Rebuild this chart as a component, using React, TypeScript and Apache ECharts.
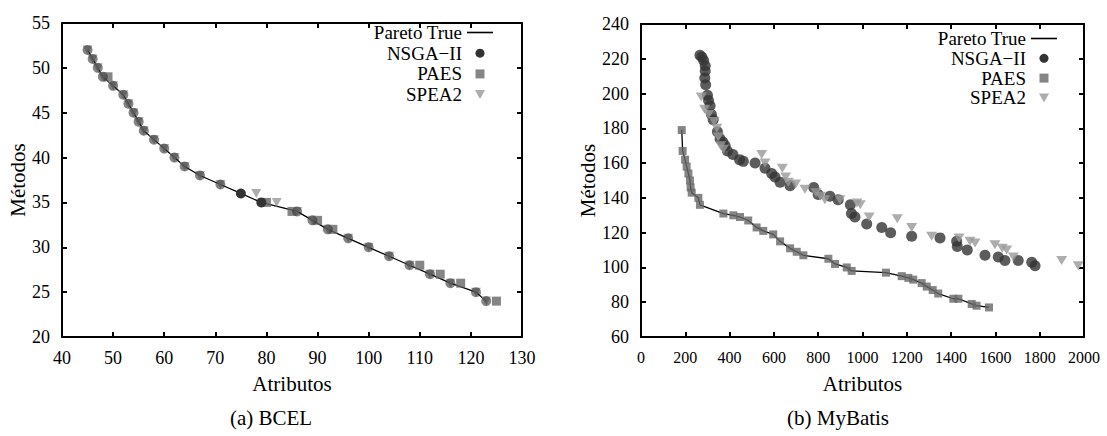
import React, { useEffect, useRef } from "react";
import * as echarts from "echarts";

// ---------- BCEL (left) ----------
const bcelParetoTrue: [number, number][] = [
  [45, 52], [46, 51], [47, 50], [48, 49], [50, 48], [52, 47], [53, 46], [54, 45], [55, 44], [56, 43],
  [58, 42], [60, 41], [62, 40], [64, 39], [67, 38], [71, 37], [75, 36], [79, 35], [86, 34], [89, 33],
  [92, 32], [96, 31], [100, 30], [104, 29], [108, 28], [112, 27], [116, 26], [121, 25], [123, 24],
];
const bcelNSGA: [number, number][] = [
  [45, 52], [46, 51], [47, 50], [48, 49], [50, 48], [52, 47], [53, 46], [54, 45], [55, 44], [56, 43],
  [58, 42], [60, 41], [62, 40], [64, 39], [67, 38], [71, 37], [75, 36], [79, 35], [86, 34], [89, 33],
  [92, 32], [96, 31], [100, 30], [104, 29], [108, 28], [112, 27], [116, 26], [121, 25], [123, 24],
];
const bcelPAES: [number, number][] = [
  [49, 49], [80, 35], [85, 34], [90, 33], [93, 32], [110, 28], [114, 27], [118, 26], [125, 24],
];
const bcelSPEA2: [number, number][] = [
  [45, 52], [46, 51], [47, 50], [48, 49], [50, 48], [52, 47], [53, 46], [54, 45], [55, 44], [56, 43],
  [58, 42], [60, 41], [62, 40], [64, 39], [67, 38], [71, 37], [78, 36], [82, 35], [86, 34], [89, 33],
  [92, 32], [96, 31], [100, 30], [104, 29], [108, 28], [112, 27], [116, 26], [121, 25], [123, 24],
];

// ---------- MyBatis (right) ----------
const myBatisPAES: [number, number][] = [
  [184, 179], [188, 167], [199, 162], [206, 158], [214, 154], [221, 150], [224, 146], [229, 143],
  [259, 140], [266, 136], [372, 131], [417, 130], [447, 129], [484, 127], [522, 123], [552, 121],
  [597, 119], [628, 115], [673, 111], [703, 109], [733, 107], [846, 105], [876, 102], [929, 100],
  [951, 98], [1106, 97], [1177, 95], [1207, 94], [1229, 93], [1267, 91], [1290, 89], [1317, 87],
  [1342, 85], [1410, 82], [1433, 82], [1493, 79], [1515, 78], [1571, 77],
];
const myBatisParetoTrue: [number, number][] = [
  [184, 179], [188, 167], [199, 162], [206, 158], [214, 154], [221, 150], [224, 146], [229, 143],
  [259, 140], [266, 136], [372, 131], [417, 130], [447, 129], [484, 127], [522, 123], [552, 121],
  [597, 119], [628, 115], [673, 111], [703, 109], [733, 107], [846, 105], [876, 102], [929, 100],
  [951, 98], [1106, 97], [1177, 95], [1207, 94], [1229, 93], [1267, 91], [1290, 89], [1317, 87],
  [1342, 85], [1410, 82], [1433, 82], [1493, 79], [1515, 78], [1571, 77],
];
const myBatisNSGA: [number, number][] = [
  [266, 222], [275, 221], [283, 219], [290, 216], [290, 213], [288, 209], [292, 205], [300, 199],
  [305, 196], [312, 193], [318, 188], [326, 185], [345, 178], [357, 174], [370, 172], [380, 170],
  [390, 167], [415, 165], [445, 162], [462, 161], [515, 160], [560, 157], [590, 154], [605, 152],
  [628, 149], [673, 147], [780, 146], [800, 142], [853, 141], [890, 139], [945, 136], [950, 131],
  [966, 129], [1019, 125], [1087, 123], [1127, 120], [1222, 118], [1350, 117], [1425, 115],
  [1428, 112], [1473, 110], [1553, 107], [1613, 106], [1643, 104], [1703, 104], [1764, 103], [1779, 101],
];
const myBatisSPEA2: [number, number][] = [
  [272, 198], [287, 191], [305, 188], [330, 184], [342, 180], [349, 175], [360, 170], [372, 168],
  [545, 165], [560, 160], [638, 157], [653, 152], [665, 149], [698, 148], [740, 145], [790, 143],
  [810, 141], [830, 139], [898, 139], [975, 137], [990, 136], [1030, 129], [1157, 128], [1222, 123],
  [1312, 118], [1436, 117], [1485, 115], [1508, 114], [1598, 113], [1631, 111], [1651, 110],
  [1681, 106], [1899, 104], [1974, 101],
];

const legendNames = ["Pareto True", "NSGA\u2212II", "PAES", "SPEA2"];
const captions = ["(a) BCEL", "(b) MyBatis"];
const xTitle = "Atributos";
const yTitle = "M\u00e9todos";

const FONT = "Liberation Serif";
const TRI = "path://M0,0L10,0L5,9Z";
const SQUARE = "path://M0,0L8,0L8,8L0,8Z";
const LINE_ICON = "path://M0,0L26,0L26,1.6L0,1.6Z";

export default function App() {
  const ref = useRef<HTMLDivElement>(null);
  useEffect(() => {
    if (!ref.current) return;
    const chart = echarts.init(ref.current, null, { renderer: "svg" });

    const axisLine = { show: true, onZero: false, lineStyle: { color: "#000", width: 2 } };
    const tick = { show: true, inside: true, length: 5, lineStyle: { color: "#000", width: 2 } };
    const label = (size: number) => ({
      fontFamily: FONT,
      fontSize: size,
      margin: 12,
      formatter: (v: number) => `{t|${v}}`,
      rich: { t: { fontFamily: FONT, fontSize: size, color: "#000" } },
    });
    const nameStyle = () => ({
      fontFamily: FONT,
      fontSize: 21,
      rich: { n: { fontFamily: FONT, fontSize: 21, color: "#000" } },
    });

    const spKey = new Set(bcelSPEA2.map((p) => p[0] + "," + p[1]));
    const bcelNSGAData = bcelNSGA.map((p) => ({
      value: p,
      itemStyle: { opacity: spKey.has(p[0] + "," + p[1]) ? 0.6 : 1 },
    }));

    const mkX = (grid: number, min: number, max: number, interval: number, size: number) => [
      {
        type: "value", gridIndex: grid, position: "bottom", min, max, interval,
        axisLine, axisTick: tick, axisLabel: label(size), splitLine: { show: false },
        name: `{n|${xTitle}}`, nameLocation: "middle", nameGap: 36, nameTextStyle: nameStyle(),
      },
      {
        type: "value", gridIndex: grid, position: "top", min, max, interval,
        axisLine, axisTick: tick, axisLabel: { show: false }, splitLine: { show: false },
      },
    ];
    const mkY = (grid: number, min: number, max: number, interval: number, gap: number) => [
      {
        type: "value", gridIndex: grid, position: "left", min, max, interval,
        axisLine, axisTick: tick, axisLabel: label(18), splitLine: { show: false },
        name: `{n|${yTitle}}`, nameLocation: "middle", nameGap: gap, nameTextStyle: nameStyle(),
      },
      {
        type: "value", gridIndex: grid, position: "right", min, max, interval,
        axisLine, axisTick: tick, axisLabel: { show: false }, splitLine: { show: false },
      },
    ];

    const legendData = [
      { name: legendNames[0], icon: LINE_ICON, itemStyle: { color: "#000" } },
      { name: legendNames[1], icon: "circle", itemStyle: { color: "#333", opacity: 1 } },
      { name: legendNames[2], icon: SQUARE, itemStyle: { color: "#666" } },
      { name: legendNames[3], icon: TRI, itemStyle: { color: "#999" } },
    ];
    const legendBase = {
      orient: "vertical",
      align: "right",
      itemWidth: 26,
      itemHeight: 9,
      data: legendData,
      textStyle: { color: "#000", fontFamily: FONT, fontSize: 19, lineHeight: 18 },
      selectedMode: false,
    };

    chart.setOption({
      animation: false,
      backgroundColor: "#fff",
      textStyle: { fontFamily: FONT },
      grid: [
        { left: 62, top: 23, width: 460, height: 314 },
        { left: 641, top: 24, width: 443, height: 313 },
      ],
      xAxis: [...mkX(0, 40, 130, 10, 18), ...mkX(1, 0, 2000, 200, 16)],
      yAxis: [...mkY(0, 20, 55, 5, 34), ...mkY(1, 60, 240, 20, 42)],
      legend: [
        { ...legendBase, right: 609, top: 18, itemGap: 1.7 },
        { ...legendBase, right: 45, top: 24, itemGap: 0.8 },
      ],
      graphic: [
        {
          type: "text", x: 271, y: 418,
          style: { text: captions[0], fill: "#000", fontFamily: FONT, fontSize: 21, align: "center", verticalAlign: "middle" },
        },
        {
          type: "text", x: 838, y: 418,
          style: { text: captions[1], fill: "#000", fontFamily: FONT, fontSize: 21, align: "center", verticalAlign: "middle" },
        },
      ],
      series: [
        {
          name: legendNames[0], type: "line", xAxisIndex: 0, yAxisIndex: 0, data: bcelParetoTrue,
          symbol: "none", lineStyle: { color: "#000", width: 1.3 }, itemStyle: { color: "#000" }, z: 2,
        },
        {
          name: legendNames[2], type: "scatter", xAxisIndex: 0, yAxisIndex: 0, data: bcelPAES,
          symbol: "rect", symbolSize: 9, itemStyle: { color: "#666" }, z: 3,
        },
        {
          name: legendNames[3], type: "scatter", xAxisIndex: 0, yAxisIndex: 0, data: bcelSPEA2,
          symbol: TRI, symbolSize: [10, 9], itemStyle: { color: "#999" }, z: 4,
        },
        {
          name: legendNames[1], type: "scatter", xAxisIndex: 0, yAxisIndex: 0, data: bcelNSGAData,
          symbol: "circle", symbolSize: 10, itemStyle: { color: "#333" }, z: 5,
        },
        {
          name: legendNames[0], type: "line", xAxisIndex: 2, yAxisIndex: 2, data: myBatisParetoTrue,
          symbol: "none", lineStyle: { color: "#000", width: 1.3 }, itemStyle: { color: "#000" }, z: 2,
        },
        {
          name: legendNames[1], type: "scatter", xAxisIndex: 2, yAxisIndex: 2, data: myBatisNSGA,
          symbol: "circle", symbolSize: 11, itemStyle: { color: "#333" }, z: 3,
        },
        {
          name: legendNames[2], type: "scatter", xAxisIndex: 2, yAxisIndex: 2, data: myBatisPAES,
          symbol: "rect", symbolSize: 8, itemStyle: { color: "#666" }, z: 4,
        },
        {
          name: legendNames[3], type: "scatter", xAxisIndex: 2, yAxisIndex: 2, data: myBatisSPEA2,
          symbol: TRI, symbolSize: [11, 9], itemStyle: { color: "#999" }, z: 5,
        },
      ],
    });
    return () => chart.dispose();
  }, []);
  return (
    <div
      ref={ref}
      style={{ position: "absolute", left: 0, top: 0, width: 1107, height: 436, background: "#fff" }}
    />
  );
}
